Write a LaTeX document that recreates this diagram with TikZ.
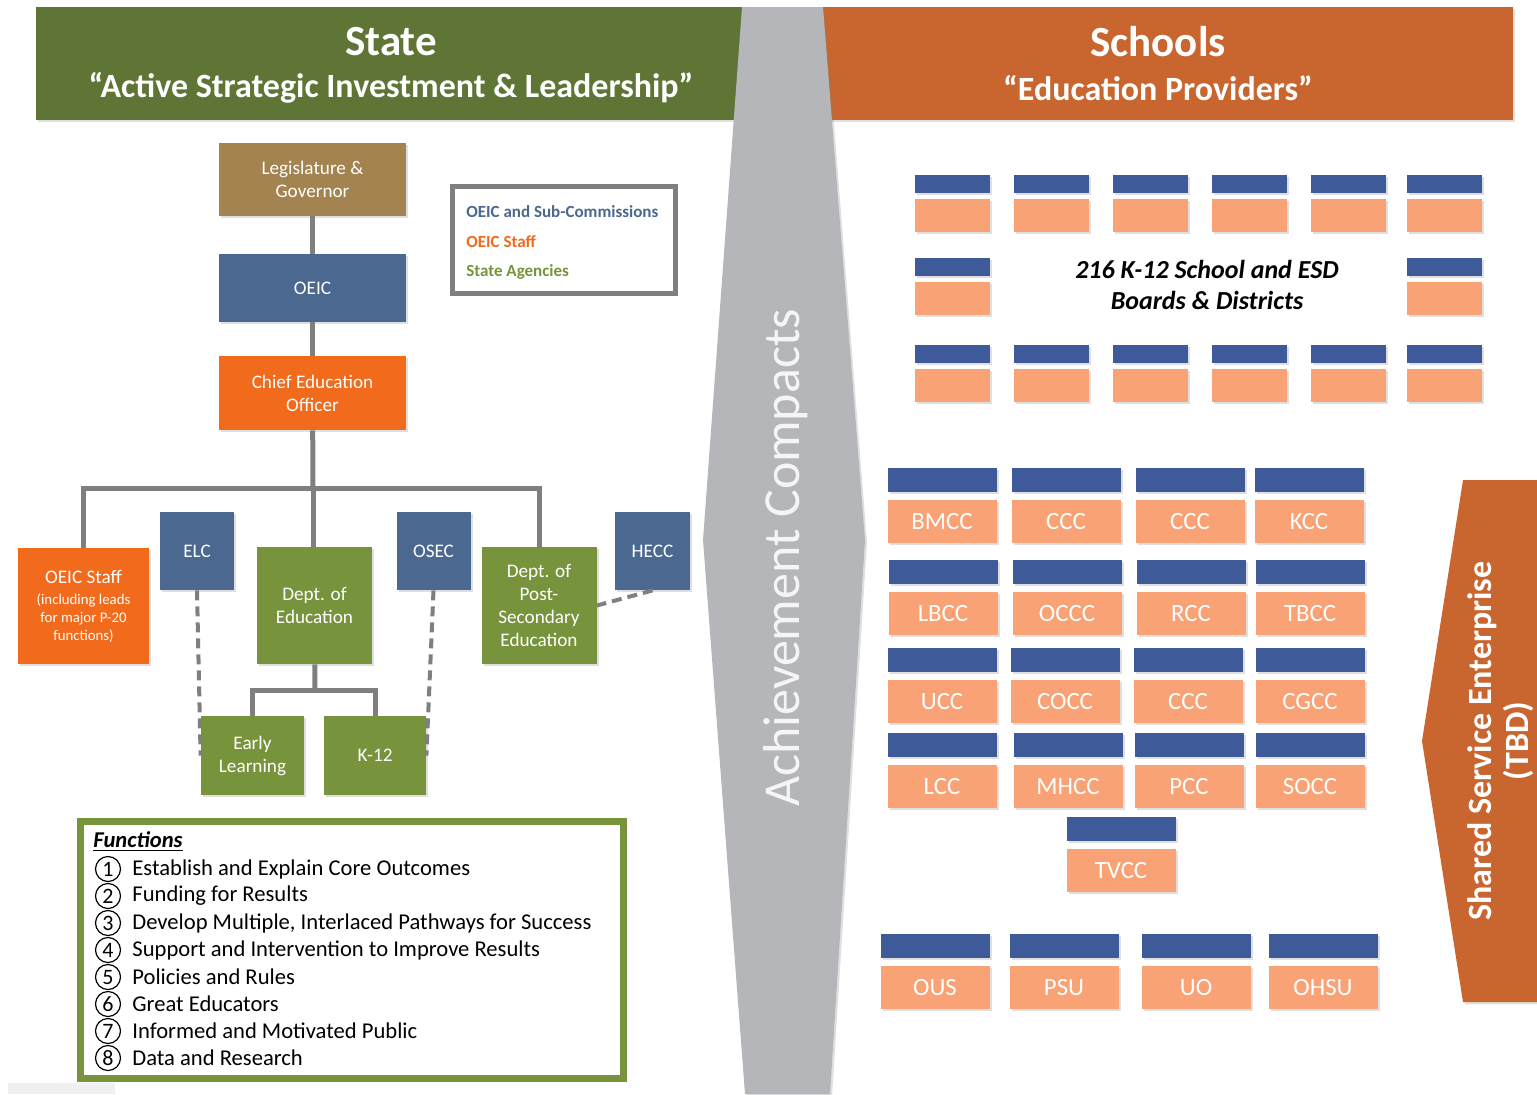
\documentclass[tikz,border=0pt]{standalone}
\usepackage{fontspec}
\setmainfont{Carlito}
\usetikzlibrary{positioning,shadows}

\definecolor{stategreen}{HTML}{5F7536}
\definecolor{schoolorange}{HTML}{C9652F}
\definecolor{compactgray}{HTML}{B4B6B9}
\definecolor{oeicblue}{HTML}{4A6890}
\definecolor{staffred}{HTML}{F26A1B}
\definecolor{agencygreen}{HTML}{77933C}
\definecolor{govbrown}{HTML}{A3834F}
\definecolor{boardblue}{HTML}{3E5A98}
\definecolor{peach}{HTML}{F8A275}
\definecolor{linegray}{HTML}{7F7F7F}

\tikzset{
    shade box/.style={drop shadow={shadow xshift=1pt, shadow yshift=-1.2pt, opacity=0.25}},
    org box/.style={rectangle, shade box, text=white, align=center, inner sep=1pt, font=\fontsize{9.6}{11.5}\selectfont},
    gov node/.style={org box, fill=govbrown},
    commission node/.style={org box, fill=oeicblue},
    staff node/.style={org box, fill=staffred},
    agency node/.style={org box, fill=agencygreen},
    org line/.style={draw=linegray, line width=2.5pt},
    link line/.style={draw=linegray, line width=2pt, dash pattern=on 5pt off 3pt},
    legend text/.style={anchor=west, inner sep=0pt, font=\bfseries\fontsize{8.5}{10}\selectfont},
    func text/.style={anchor=west, inner sep=0pt, font=\fontsize{11.3}{13}\selectfont},
    num circle/.style={circle, draw, line width=0.6pt, minimum size=12.5pt, inner sep=0pt, font=\fontsize{11}{12}\selectfont},
    board bar/.style={rectangle, fill=boardblue, shade box, inner sep=0pt},
    school box/.style={rectangle, fill=peach, shade box, inner sep=0pt, text=white, font=\fontsize{12.4}{14}\selectfont},
    k12 board/.style={board bar, minimum width=37.5pt, minimum height=9pt},
    k12 district/.style={school box, minimum width=37.5pt, minimum height=16.5pt},
    cc board/.style={board bar, minimum width=54.5pt, minimum height=12pt},
    cc school/.style={school box, minimum width=54.5pt, minimum height=21.5pt}
}

\begin{document}
\begin{tikzpicture}[x=0.5pt, y=-0.5pt]
    \useasboundingbox (0,0) rectangle (1537,1094);

    % Headers
    \node[rectangle, fill=stategreen, shade box, minimum width=353pt, minimum height=56.5pt, inner sep=0pt] (statehead) at (389,63.5) {};
    \node[text=white, font=\bfseries\fontsize{21.5}{24}\selectfont] (statetitle) at (391,42) {State};
    \node[text=white, font=\bfseries\fontsize{17}{20}\selectfont] (statesub) at (391,88) {“Active Strategic Investment \& Leadership”};
    \node[rectangle, fill=schoolorange, shade box, minimum width=345pt, minimum height=56.5pt, inner sep=0pt] (schoolhead) at (1168,63.5) {};
    \node[text=white, font=\bfseries\fontsize{21.5}{24}\selectfont] (schooltitle) at (1158,42) {Schools};
    \node[text=white, font=\bfseries\fontsize{17}{20}\selectfont] (schoolsub) at (1158,88) {“Education Providers”};

    % Achievement Compacts band
    \fill[compactgray, shade box] (742,7) -- (823,7) -- (865,540) -- (830,1094) -- (745,1094) -- (703,540) -- cycle;
    \node[rotate=90, text=white!92!gray, font=\fontsize{26}{28}\selectfont] (compacts) at (786,558) {Achievement Compacts};

    % Shared service arrow
    \fill[schoolorange, shade box] (1463,480) -- (1545,480) -- (1545,1002) -- (1463,1002) -- (1422,741) -- cycle;
    \node[rotate=90, text=white, align=center, font=\bfseries\fontsize{17}{18.5}\selectfont] (shared) at (1501,741) {Shared Service Enterprise\\(TBD)};

    % Org chart
    \node[gov node, minimum width=93.5pt, minimum height=36.5pt] (leg) at (312.5,179.5) {Legislature \&\\Governor};
    \node[commission node, minimum width=93.5pt, minimum height=34pt] (oeic) at (312.5,288) {OEIC};
    \node[staff node, minimum width=93.5pt, minimum height=37pt] (ceo) at (312.5,393) {Chief Education\\Officer};
    \node[staff node, minimum width=65.5pt, minimum height=58pt, font=\fontsize{7.4}{9}\selectfont] (staff) at (83.5,606)
        {{\fontsize{9.6}{11}\selectfont OEIC Staff}\\[1.5pt](including leads\\for major P-20\\functions)};
    \node[commission node, minimum width=37pt, minimum height=39pt] (elc) at (197,551) {ELC};
    \node[agency node, minimum width=57.5pt, minimum height=58.5pt] (doe) at (314.5,605.5) {Dept. of\\Education};
    \node[commission node, minimum width=37pt, minimum height=39pt] (osec) at (433.5,551) {OSEC};
    \node[agency node, minimum width=57.5pt, minimum height=58.5pt] (dpse) at (539,605.5) {Dept. of\\Post-\\Secondary\\Education};
    \node[commission node, minimum width=37.5pt, minimum height=39pt] (hecc) at (652.5,551) {HECC};
    \node[agency node, minimum width=51.5pt, minimum height=39.5pt] (early) at (252.5,755.5) {Early\\Learning};
    \node[agency node, minimum width=51pt, minimum height=39.5pt] (ktwelve) at (375,755.5) {K-12};

    \coordinate (bus) at (313,488);
    \coordinate (split) at (315,690);
    \draw[org line] (leg) -- (oeic);
    \draw[org line] (oeic) -- (ceo);
    \draw[org line] (ceo) -- (bus);
    \draw[org line] (staff.north) |- (bus) -| (dpse.north);
    \draw[org line] (bus) -- (bus |- doe.north);
    \draw[org line] (doe) -- (split);
    \draw[org line] (early.north) |- (split) -| (ktwelve.north);
    \draw[link line] (elc.south) -- (early.west);
    \draw[link line] (osec.south) -- (ktwelve.east);
    \draw[link line] (hecc.south) -- (dpse.east);

    % Legend
    \node[draw=linegray, fill=white, line width=2.5pt, minimum width=111.5pt, minimum height=53.5pt, inner sep=0pt] (legend) at (564,240) {};
    \node[legend text, text=oeicblue] (legoeic) at (466,212) {OEIC and Sub-Commissions};
    \node[legend text, text=staffred] (legstaff) at (466,242) {OEIC Staff};
    \node[legend text, text=agencygreen] (legagency) at (466,272) {State Agencies};

    % Functions
    \node[draw=agencygreen, fill=white, shade box, line width=3.5pt, minimum width=271.5pt, minimum height=128.5pt, inner sep=0pt] (functions) at (352,950) {};
    \node[func text, font=\bfseries\itshape\fontsize{11.3}{13}\selectfont] (funchead) at (93,842) {\underline{Functions}};
    \foreach \txt [count=\n] in {Establish and Explain Core Outcomes, Funding for Results,
        {Develop Multiple, Interlaced Pathways for Success}, Support and Intervention to Improve Results,
        Policies and Rules, Great Educators, Informed and Motivated Public, Data and Research}{
        \node[num circle] (num\n) at (108,{842+27*\n}) {\n};
        \node[func text] (func\n) at (132,{842+27*\n}) {\txt};
    }

    % K-12 boards and districts
    \foreach \x [count=\c] in {952,1051,1150,1249,1348,1444}{
        \node[k12 board] (kbA\c) at (\x,184) {};
        \node[k12 district, below=2.5pt of kbA\c] (kdA\c) {};
        \node[k12 board] (kbC\c) at (\x,354) {};
        \node[k12 district, below=2.5pt of kbC\c] (kdC\c) {};
    }
    \foreach \x [count=\c] in {952,1444}{
        \node[k12 board] (kbB\c) at (\x,267) {};
        \node[k12 district, below=2.5pt of kbB\c] (kdB\c) {};
    }
    \node[font=\bfseries\itshape\fontsize{13}{15.5}\selectfont, align=center] (k12label) at (1207,285) {216 K-12 School and ESD\\Boards \& Districts};

    % Colleges and universities
    \foreach \x/\y/\name [count=\i] in {942/480/BMCC, 1066/480/CCC, 1190/480/CCC, 1309/480/KCC,
        943/572/LBCC, 1067/572/OCCC, 1191/572/RCC, 1310/572/TBCC,
        942/660/UCC, 1065/660/COCC, 1188/660/CCC, 1310/660/CGCC,
        942/745/LCC, 1068/745/MHCC, 1189/745/PCC, 1310/745/SOCC,
        1121/829/TVCC,
        935/946/OUS, 1064/946/PSU, 1196/946/UO, 1323/946/OHSU}{
        \node[cc board] (cb\i) at (\x,\y) {};
        \node[cc school, below=3.5pt of cb\i] (cs\i) {\name};
    }

    \fill[gray!12] (8,1083) rectangle (115,1094);
\end{tikzpicture}
\end{document}
